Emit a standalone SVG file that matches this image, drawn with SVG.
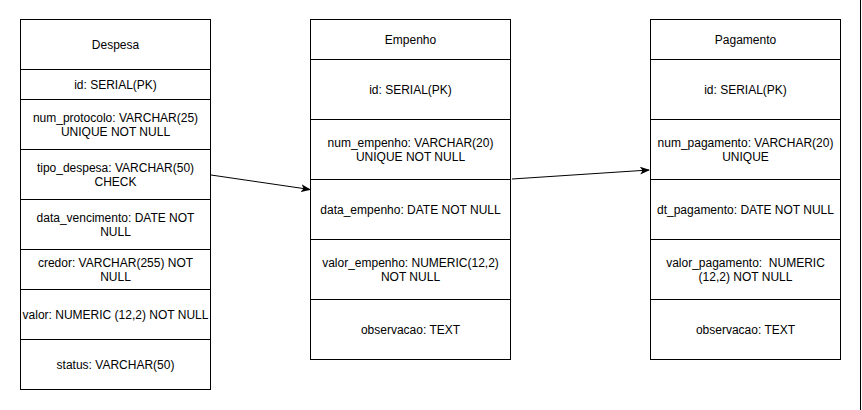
<svg xmlns="http://www.w3.org/2000/svg" width="862" height="410" viewBox="0 0 862 410">
<defs>
<style>
.c{fill:#fff;stroke:#000;stroke-width:1}
.t{font-family:"Liberation Sans",Arial,sans-serif;font-size:12px;fill:#000;text-anchor:middle;white-space:pre}
.e{stroke:#000;stroke-width:1;fill:none}
</style>
<marker id="ah" markerWidth="10" markerHeight="8" refX="9" refY="4" orient="auto" markerUnits="userSpaceOnUse">
<path d="M0,0 L10,4 L0,8 L2.5,4 Z" fill="#000"/>
</marker>
</defs>
<rect width="862" height="410" fill="#fff"/>
<line x1="860.5" y1="0" x2="860.5" y2="410" stroke="#000" stroke-width="1"/>
<g id="despesa">
<rect class="c" x="20.5" y="19.5" width="190" height="50"/>
<rect class="c" x="20.5" y="69.5" width="190" height="30"/>
<rect class="c" x="20.5" y="99.5" width="190" height="50"/>
<rect class="c" x="20.5" y="149.5" width="190" height="50"/>
<rect class="c" x="20.5" y="199.5" width="190" height="50"/>
<rect class="c" x="20.5" y="249.5" width="190" height="40"/>
<rect class="c" x="20.5" y="289.5" width="190" height="50"/>
<rect class="c" x="20.5" y="339.5" width="190" height="50"/>
<text class="t" x="115.5" y="49">Despesa</text>
<text class="t" x="115.5" y="89">id: SERIAL(PK)</text>
<text class="t" x="115.5" y="122">num_protocolo: VARCHAR(25)</text>
<text class="t" x="115.5" y="136">UNIQUE NOT NULL</text>
<text class="t" x="115.5" y="172">tipo_despesa: VARCHAR(50)</text>
<text class="t" x="115.5" y="186">CHECK</text>
<text class="t" x="115.5" y="222">data_vencimento: DATE NOT</text>
<text class="t" x="115.5" y="236">NULL</text>
<text class="t" x="115.5" y="267">credor: VARCHAR(255) NOT</text>
<text class="t" x="115.5" y="281">NULL</text>
<text class="t" x="115.5" y="319">valor: NUMERIC (12,2) NOT NULL</text>
<text class="t" x="115.5" y="369">status: VARCHAR(50)</text>
</g>
<g id="empenho">
<rect class="c" x="310.5" y="19.5" width="200" height="40"/>
<rect class="c" x="310.5" y="59.5" width="200" height="60"/>
<rect class="c" x="310.5" y="119.5" width="200" height="60"/>
<rect class="c" x="310.5" y="179.5" width="200" height="60"/>
<rect class="c" x="310.5" y="239.5" width="200" height="60"/>
<rect class="c" x="310.5" y="299.5" width="200" height="60"/>
<text class="t" x="410.5" y="44">Empenho</text>
<text class="t" x="410.5" y="94">id: SERIAL(PK)</text>
<text class="t" x="410.5" y="147">num_empenho: VARCHAR(20)</text>
<text class="t" x="410.5" y="161">UNIQUE NOT NULL</text>
<text class="t" x="410.5" y="214">data_empenho: DATE NOT NULL</text>
<text class="t" x="410.5" y="267">valor_empenho: NUMERIC(12,2)</text>
<text class="t" x="410.5" y="281">NOT NULL</text>
<text class="t" x="410.5" y="334">observacao: TEXT</text>
</g>
<g id="pagamento">
<rect class="c" x="650.5" y="19.5" width="190" height="40"/>
<rect class="c" x="650.5" y="59.5" width="190" height="60"/>
<rect class="c" x="650.5" y="119.5" width="190" height="60"/>
<rect class="c" x="650.5" y="179.5" width="190" height="60"/>
<rect class="c" x="650.5" y="239.5" width="190" height="60"/>
<rect class="c" x="650.5" y="299.5" width="190" height="60"/>
<text class="t" x="745.5" y="44">Pagamento</text>
<text class="t" x="745.5" y="94">id: SERIAL(PK)</text>
<text class="t" x="745.5" y="147">num_pagamento: VARCHAR(20)</text>
<text class="t" x="745.5" y="161">UNIQUE</text>
<text class="t" x="745.5" y="214">dt_pagamento: DATE NOT NULL</text>
<text class="t" x="745.5" y="267" xml:space="preserve">valor_pagamento:  NUMERIC</text>
<text class="t" x="745.5" y="281">(12,2) NOT NULL</text>
<text class="t" x="745.5" y="334">observacao: TEXT</text>
</g>
<g id="connectors">
<line class="e" x1="211" y1="175" x2="310" y2="189.5" marker-end="url(#ah)"/>
<line class="e" x1="512" y1="179" x2="649" y2="170" marker-end="url(#ah)"/>
</g>
</svg>
